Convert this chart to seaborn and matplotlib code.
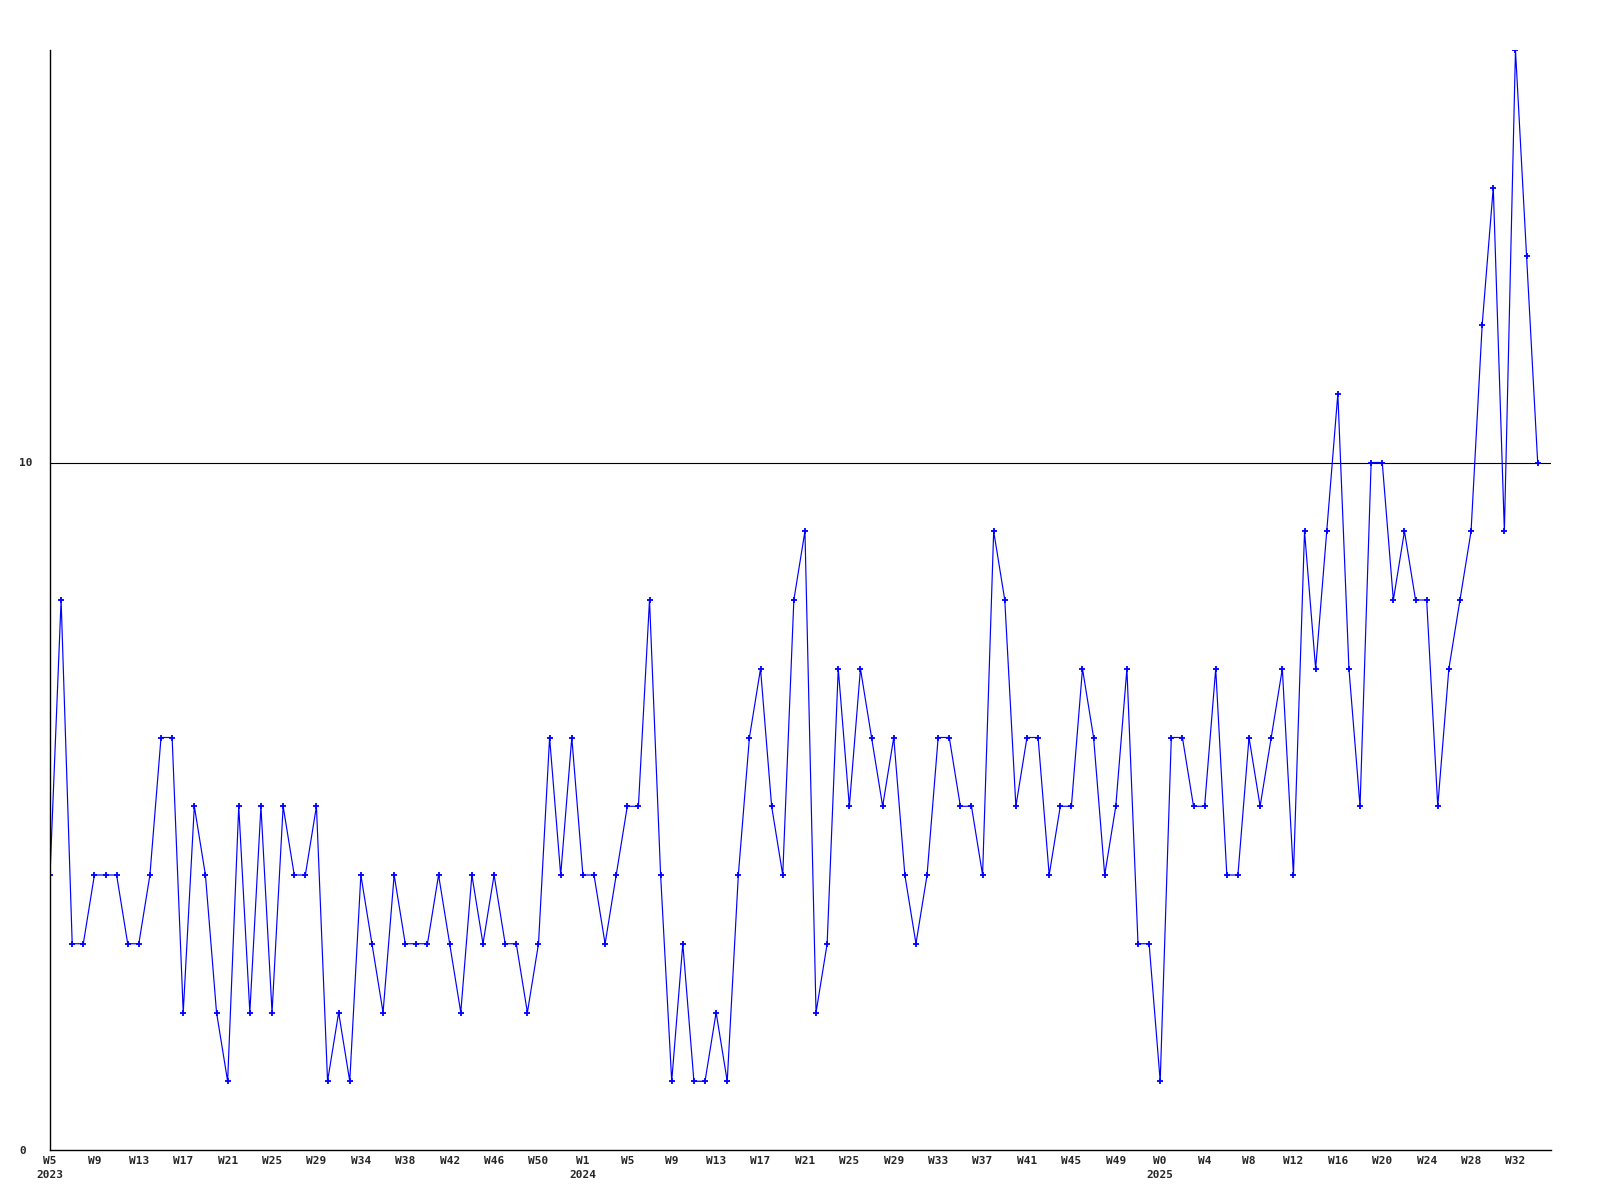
import numpy as np
import pandas as pd
import matplotlib.pyplot as plt
import seaborn as sns

sns.set_style('white')
plt.rcParams['font.family'] = ['DejaVu Sans Mono']

# weekly counts, 2023 W5 .. 2025 W34
counts = [4, 8, 3, 3, 4, 4, 4, 3, 3, 4, 6, 6, 2, 5, 4, 2, 1, 5, 2, 5, 2, 5, 4, 4, 5, 1, 2, 1, 4, 3, 2, 4,
          3, 3, 3, 4, 3, 2, 4, 3, 4, 3, 3, 2, 3, 6, 4, 6, 4, 4, 3, 4, 5, 5, 8, 4, 1, 3, 1, 1, 2, 1, 4, 6, 7, 5, 4, 8,
          9, 2, 3, 7, 5, 7, 6, 5, 6, 4, 3, 4, 6, 6, 5, 5, 4, 9, 8, 5, 6, 6, 4, 5, 5, 7, 6, 4, 5, 7, 3, 3, 1, 6, 6, 5,
          5, 7, 4, 4, 6, 5, 6, 7, 4, 9, 7, 9, 11, 7, 5, 10, 10, 8, 9, 8, 8, 5, 7, 8, 9, 12, 14, 9, 16, 13, 10]

week_labels = ['W5', 'W9', 'W13', 'W17', 'W21', 'W25', 'W29', 'W34', 'W38', 'W42', 'W46', 'W50',
               'W1', 'W5', 'W9', 'W13', 'W17', 'W21', 'W25', 'W29', 'W33', 'W37', 'W41', 'W45', 'W49',
               'W0', 'W4', 'W8', 'W12', 'W16', 'W20', 'W24', 'W28', 'W32']
year_labels = ['2023'] + [''] * 11 + ['2024'] + [''] * 12 + ['2025'] + [''] * 8

y_ticks = [0, 10]

df = pd.DataFrame({'week': np.arange(len(counts)), 'count': counts})

fig = plt.figure(figsize=(16, 12), dpi=100)
ax = fig.add_axes([50 / 1600, 50 / 1200, 1501 / 1600, 1100 / 1200])

sns.lineplot(data=df, x='week', y='count', ax=ax, color='#0000ff', lw=0.85,
             marker='+', markersize=4, markeredgewidth=1.3, markeredgecolor='#0000ff')
ax.axhline(10, color='black', lw=0.8, zorder=0)

ax.set_ylim(0, 16)
ax.set_xlim(0, len(counts) + 0.2)

ax.set_xticks(np.arange(len(week_labels)) * 4)
ax.set_xticklabels([w + '\n' + y for w, y in zip(week_labels, year_labels)],
                   fontsize=8, fontweight='bold', linespacing=1.6)
ax.set_yticks(y_ticks)
ax.set_yticklabels([str(t) for t in y_ticks], fontsize=8, fontweight='bold', ha='left')
ax.tick_params(axis='y', length=0, pad=22)
ax.tick_params(axis='x', length=0, pad=4)

for s in ['top', 'right']:
    ax.spines[s].set_visible(False)
for s in ['left', 'bottom']:
    ax.spines[s].set_color('black')
    ax.spines[s].set_linewidth(1)
ax.set_xlabel('')
ax.set_ylabel('')

fig.savefig('out.png', dpi=100, facecolor='white')
